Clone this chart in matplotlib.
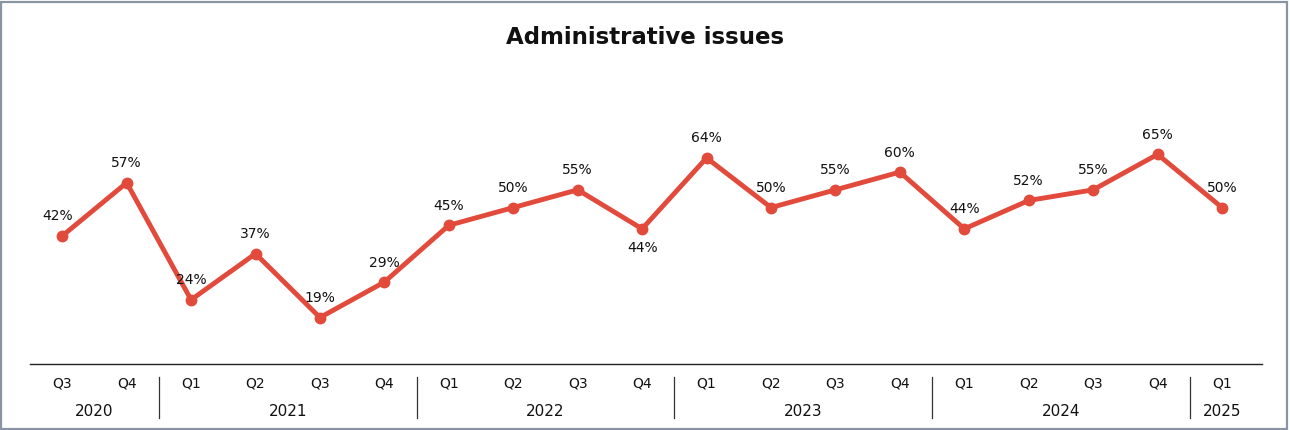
import matplotlib
matplotlib.use("Agg")
import matplotlib.pyplot as plt
import matplotlib.transforms as mtransforms
from matplotlib.patches import Rectangle

quarters = ["Q3", "Q4",
            "Q1", "Q2", "Q3", "Q4",
            "Q1", "Q2", "Q3", "Q4",
            "Q1", "Q2", "Q3", "Q4",
            "Q1", "Q2", "Q3", "Q4",
            "Q1"]
years = ["2020", "2021", "2022", "2023", "2024", "2025"]
year_counts = [2, 4, 4, 4, 4, 1]
values = [42, 57, 24, 37, 19, 29, 45, 50, 55, 44, 64, 50, 55, 60, 44, 52, 55, 65, 50]
label_below = [False] * len(values)
label_below[9] = True  # 2022 Q4 label sits under the point

W, H = 1290, 430
fig = plt.figure(figsize=(W / 100, H / 100), dpi=100)
fig.patch.set_facecolor("white")
fig.patches.append(Rectangle((0.001, 0.002), 0.997, 0.994, transform=fig.transFigure,
                             fill=False, edgecolor="#8a95a3", linewidth=1.6))

ax = fig.add_axes([30 / W, 1 - 364 / H, (1262 - 30) / W, (364 - 60) / H])
x = list(range(len(values)))
color = "#E24A3B"
ax.plot(x, values, color=color, linewidth=3.5, marker="o", markersize=7.5,
        solid_capstyle="round", solid_joinstyle="round", zorder=3)
ax.set_xlim(-0.5, len(values) - 1 + 0.62)
ax.set_ylim(5.9, 91.6)

for xi, v, below in zip(x, values, label_below):
    dy = -14 if below else 14
    dx = -3 if xi == 0 else 0
    ax.annotate(f"{v}%", (xi, v), xytext=(dx, dy), textcoords="offset points",
                ha="center", va="center", fontsize=10, color="#111111")

for s in ["top", "right", "left"]:
    ax.spines[s].set_visible(False)
ax.spines["bottom"].set_color("#222222")
ax.spines["bottom"].set_linewidth(1.0)
ax.set_yticks([])
ax.set_xticks([])

trans = mtransforms.blended_transform_factory(ax.transData, ax.transAxes)
for xi, q in zip(x, quarters):
    ax.text(xi, -0.064, q, transform=trans, ha="center", va="center", fontsize=10,
            color="#111111")

start = 0
for i, (yr, n) in enumerate(zip(years, year_counts)):
    center = start + (n - 1) / 2
    ax.text(center, -0.155, yr, transform=trans, ha="center", va="center",
            fontsize=11, color="#111111")
    if i > 0:
        ax.plot([start - 0.5, start - 0.5], [-0.043, -0.178], transform=trans,
                color="#333333", linewidth=0.9, clip_on=False)
    start += n

fig.text(0.5, 1 - 37 / H, "Administrative issues", ha="center", va="center",
         fontsize=16.5, fontweight="bold", color="#111111")

fig.savefig("out.png", dpi=100)
